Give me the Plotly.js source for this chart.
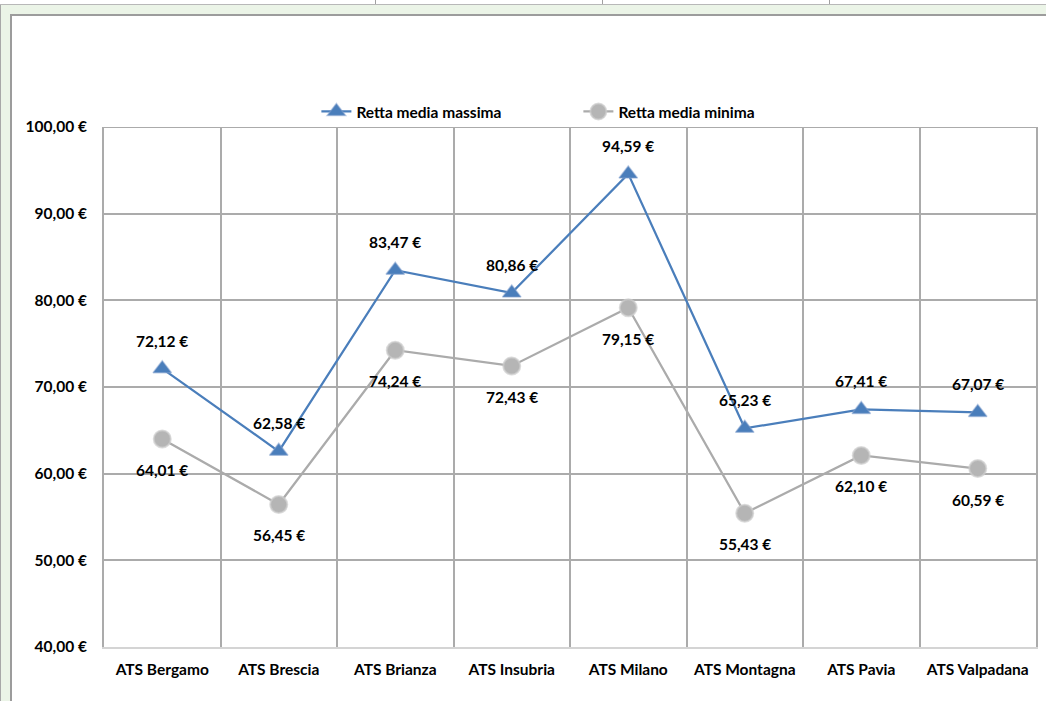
<!DOCTYPE html>
<html>
<head>
<meta charset="utf-8">
<script src="https://cdn.plot.ly/plotly-3.0.1.min.js"></script>
<style>
  html, body { margin:0; padding:0; background:#ffffff; }
  #wrap { position:relative; width:1046px; height:701px; overflow:hidden; background:#ffffff; }
  .deco { position:absolute; }
  #chart { position:absolute; left:0; top:0; width:1046px; height:701px; }
</style>
</head>
<body>
<div id="wrap">
  <div class="deco" style="left:0;top:4px;width:1046px;height:1px;background:#b8b8b8;"></div>
  <div class="deco" style="left:375px;top:0;width:1px;height:4px;background:#a0a0a0;"></div>
  <div class="deco" style="left:602px;top:0;width:1px;height:4px;background:#a0a0a0;"></div>
  <div class="deco" style="left:829px;top:0;width:1px;height:4px;background:#a0a0a0;"></div>
  <div class="deco" style="left:0;top:5px;width:1046px;height:9px;background:#ebf4e7;"></div>
  <div class="deco" style="left:0;top:5px;width:10px;height:696px;background:#ebf4e7;"></div>
  <div class="deco" style="left:0;top:5px;width:1px;height:696px;background:#a8a8a8;"></div>
  <div class="deco" style="left:10px;top:14px;width:1036px;height:2px;background:#9c9c9c;"></div>
  <div class="deco" style="left:10px;top:14px;width:2px;height:687px;background:#9c9c9c;"></div>
  <div id="chart"></div>
</div>
<script>
var categories = ["ATS Bergamo","ATS Brescia","ATS Brianza","ATS Insubria","ATS Milano","ATS Montagna","ATS Pavia","ATS Valpadana"];
var seriesMaxName = "Retta media massima";
var seriesMinName = "Retta media minima";
var seriesMax = [72.12, 62.58, 83.47, 80.86, 94.59, 65.23, 67.41, 67.07];
var seriesMin = [64.01, 56.45, 74.24, 72.43, 79.15, 55.43, 62.10, 60.59];
var yTickVals = [40, 50, 60, 70, 80, 90, 100];

var FONT = "Lato, 'Open Sans', sans-serif";
var FS = 15.5;
function fmt(v) { return v.toFixed(2).replace('.', ',') + ' €'; }
var yTickText = yTickVals.map(fmt);

var traceMax = {
  x: categories, y: seriesMax, name: seriesMaxName, type: 'scatter', mode: 'lines+markers',
  line: {color: '#4a7ebb', width: 2.25},
  marker: {symbol: 'triangle-up', size: 16, color: '#4a7ebb', line: {color: 'rgba(130,160,205,0.5)', width: 1.5}},
  hoverinfo: 'skip'
};
var traceMin = {
  x: categories, y: seriesMin, name: seriesMinName, type: 'scatter', mode: 'lines+markers',
  line: {color: '#ababab', width: 2.25},
  marker: {symbol: 'circle', size: 17, color: '#b5b5b5', line: {color: 'rgba(205,205,205,0.7)', width: 2}},
  hoverinfo: 'skip'
};

var annotations = [];
categories.forEach(function(c, i) {
  annotations.push({x: c, y: seriesMax[i], xref: 'x', yref: 'y', text: fmt(seriesMax[i]), showarrow: false,
    yshift: 28, font: {family: FONT, size: FS, color: '#000000', weight: 'bold'}});
  annotations.push({x: c, y: seriesMin[i], xref: 'x', yref: 'y', text: fmt(seriesMin[i]), showarrow: false,
    yshift: -31, font: {family: FONT, size: FS, color: '#000000', weight: 'bold'}});
});

var layout = {
  width: 1046, height: 701,
  margin: {l: 104, r: 10, t: 127, b: 54},
  paper_bgcolor: 'rgba(0,0,0,0)', plot_bgcolor: 'rgba(0,0,0,0)',
  font: {family: FONT, size: FS, color: '#000000', weight: 'bold'},
  showlegend: true,
  legend: {orientation: 'h', x: 0.509, xanchor: 'center', y: 1.029, yanchor: 'middle',
    font: {family: FONT, size: FS, color: '#000000', weight: 'bold'},
    bgcolor: 'rgba(0,0,0,0)', entrywidth: 217, tracegroupgap: 0},
  xaxis: {type: 'category', range: [-0.5, 7.5], tickson: 'boundaries', showgrid: true,
    gridcolor: '#ababab', gridwidth: 2, showline: true, linecolor: '#d4d4d4', linewidth: 2,
    ticks: '', ticklabelstandoff: 7, fixedrange: true,
    tickfont: {family: FONT, size: FS, color: '#000000', weight: 'bold'}},
  yaxis: {range: [40, 100], tickvals: yTickVals, ticktext: yTickText,
    showgrid: true, gridcolor: '#ababab', gridwidth: 2, showline: true, linecolor: '#ababab',
    linewidth: 2, mirror: true, zeroline: false, ticks: '', ticklabelstandoff: 12, fixedrange: true,
    tickfont: {family: FONT, size: FS, color: '#000000', weight: 'bold'}},
  shapes: [{type: 'line', xref: 'paper', yref: 'y', x0: 0, x1: 1, y0: 100, y1: 100,
    line: {color: '#ababab', width: 2}}],
  annotations: annotations
};

Plotly.newPlot('chart', [traceMax, traceMin], layout, {displayModeBar: false, staticPlot: true});
</script>
</body>
</html>
